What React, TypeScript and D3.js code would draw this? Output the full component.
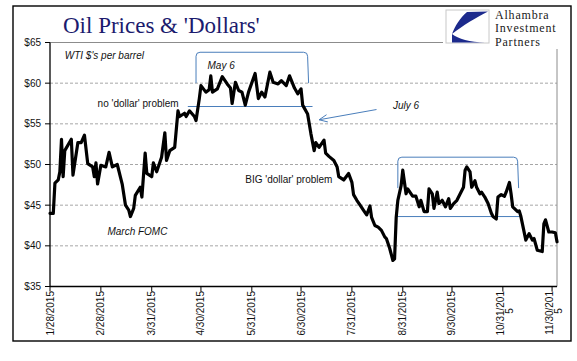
import * as d3 from 'd3'

// WTI daily closes
const dates = [
  '2015-01-28', '2015-01-30', '2015-01-31', '2015-02-02', '2015-02-03', '2015-02-04', '2015-02-05', '2015-02-06',
  '2015-02-10', '2015-02-11', '2015-02-14', '2015-02-16', '2015-02-18', '2015-02-20', '2015-02-23', '2015-02-24',
  '2015-02-25', '2015-02-26', '2015-02-28', '2015-03-03', '2015-03-05', '2015-03-07', '2015-03-10', '2015-03-13',
  '2015-03-15', '2015-03-17', '2015-03-18', '2015-03-20', '2015-03-21', '2015-03-24', '2015-03-25', '2015-03-27',
  '2015-03-28', '2015-03-31', '2015-04-01', '2015-04-03', '2015-04-06', '2015-04-08', '2015-04-09', '2015-04-11',
  '2015-04-14', '2015-04-16', '2015-04-17', '2015-04-20', '2015-04-21', '2015-04-23', '2015-04-26', '2015-04-27',
  '2015-04-29', '2015-04-30', '2015-05-03', '2015-05-05', '2015-05-06', '2015-05-07', '2015-05-10', '2015-05-13',
  '2015-05-16', '2015-05-18', '2015-05-19', '2015-05-21', '2015-05-23', '2015-05-25', '2015-05-27', '2015-05-29',
  '2015-06-02', '2015-06-04', '2015-06-06', '2015-06-08', '2015-06-11', '2015-06-13', '2015-06-16', '2015-06-18',
  '2015-06-21', '2015-06-23', '2015-06-26', '2015-06-28', '2015-06-30', '2015-07-01', '2015-07-04', '2015-07-06',
  '2015-07-08', '2015-07-09', '2015-07-11', '2015-07-14', '2015-07-15', '2015-07-17', '2015-07-20', '2015-07-22',
  '2015-07-23', '2015-07-26', '2015-07-29', '2015-07-31', '2015-08-01', '2015-08-03', '2015-08-05', '2015-08-07',
  '2015-08-09', '2015-08-11', '2015-08-12', '2015-08-14', '2015-08-16', '2015-08-18', '2015-08-20', '2015-08-21',
  '2015-08-23', '2015-08-25', '2015-08-26', '2015-08-27', '2015-08-28', '2015-08-30', '2015-08-31', '2015-09-02',
  '2015-09-03', '2015-09-06', '2015-09-08', '2015-09-10', '2015-09-11', '2015-09-13', '2015-09-15', '2015-09-16',
  '2015-09-18', '2015-09-19', '2015-09-21', '2015-09-22', '2015-09-24', '2015-09-26', '2015-09-28', '2015-09-29',
  '2015-10-01', '2015-10-03', '2015-10-05', '2015-10-07', '2015-10-08', '2015-10-09', '2015-10-11', '2015-10-12',
  '2015-10-14', '2015-10-15', '2015-10-17', '2015-10-18', '2015-10-20', '2015-10-22', '2015-10-24', '2015-10-25',
  '2015-10-27', '2015-10-28', '2015-10-30', '2015-11-01', '2015-11-02', '2015-11-04', '2015-11-05', '2015-11-06',
  '2015-11-09', '2015-11-10', '2015-11-11', '2015-11-14', '2015-11-16', '2015-11-18', '2015-11-19', '2015-11-21',
  '2015-11-24', '2015-11-25', '2015-11-26', '2015-11-28', '2015-11-30', '2015-12-02', '2015-12-03',
]
const prices = [
  44.0, 44.0, 47.7, 48.1, 49.1, 53.1, 48.5, 51.7,
  53.1, 48.7, 52.7, 52.7, 53.6, 50.1, 49.7, 48.5,
  50.2, 47.6, 49.9, 49.7, 51.5, 49.7, 50.0, 47.6,
  45.0, 44.4, 43.6, 44.6, 46.2, 47.2, 46.0, 51.4,
  48.9, 48.5, 50.2, 49.1, 50.9, 53.9, 50.5, 51.7,
  52.1, 56.6, 55.9, 56.3, 55.9, 56.6, 55.9, 55.4,
  58.1, 59.7, 58.9, 59.2, 60.9, 58.9, 59.3, 60.8,
  59.9, 59.4, 57.5, 60.1, 59.1, 58.9, 57.3, 58.9,
  61.2, 58.1, 58.9, 58.3, 61.35, 60.1, 59.9, 60.3,
  59.7, 60.9, 59.4, 58.7, 59.3, 57.3, 56.2, 53.8,
  51.7, 52.7, 52.1, 53.0, 51.4, 51.0, 50.5, 49.7,
  48.5, 48.1, 48.9, 47.8, 46.3, 45.6, 45.0, 44.4,
  43.8, 44.9, 43.5, 42.5, 42.3, 41.9, 41.1, 40.9,
  39.7, 38.2, 38.4, 43.5, 45.6, 47.4, 49.3, 46.4,
  47.0, 46.1, 46.1, 44.8, 45.6, 44.2, 44.2, 47.0,
  46.4, 44.6, 46.6, 45.2, 45.6, 44.8, 45.8, 44.6,
  45.2, 45.6, 46.4, 47.2, 49.3, 49.7, 49.1, 47.2,
  48.0, 47.2, 46.4, 46.6, 46.0, 45.2, 44.0, 43.6,
  43.3, 46.0, 46.3, 46.1, 46.6, 47.8, 46.4, 44.8,
  44.2, 44.3, 43.6, 40.7, 41.5, 40.7, 40.9, 39.45,
  39.3, 42.7, 43.2, 41.7, 41.7, 41.6, 40.5,
]

const xTicks = ['2015-01-28', '2015-02-28', '2015-03-31', '2015-04-30', '2015-05-31', '2015-06-30',
  '2015-07-31', '2015-08-31', '2015-09-30', '2015-10-31', '2015-11-30']
const xTickLabels = [['1/28/2015'], ['2/28/2015'], ['3/31/2015'], ['4/30/2015'], ['5/31/2015'], ['6/30/2015'],
  ['7/31/2015'], ['8/31/2015'], ['9/30/2015'], ['10/31/201', '5'], ['11/30/201', '5']]
const yTicks = [35, 40, 45, 50, 55, 60, 65]

// annotations
const brackets = [
  { start: '2015-04-27', end: '2015-07-04', top: 63.8, bottom: 60.0 },
  { start: '2015-08-28', end: '2015-11-09', top: 50.9, bottom: 47.1 },
]
const levels = [
  { start: '2015-04-22', end: '2015-07-07', value: 57.13 },
  { start: '2015-08-27', end: '2015-11-11', value: 43.6 },
]
const arrow = { from: ['2015-08-15', 56.76], to: ['2015-07-11', 55.5] }
const notes = [
  { text: "WTI $'s per barrel", date: '2015-02-06', value: 63.0, italic: true },
  { text: 'May 6', date: '2015-05-04', value: 61.8, italic: true },
  { text: "no 'dollar' problem", date: '2015-02-26', value: 57.05, italic: false },
  { text: 'March FOMC', date: '2015-03-04', value: 41.3, italic: true },
  { text: "BIG 'dollar' problem", date: '2015-05-27', value: 47.7, italic: false },
  { text: 'July 6', date: '2015-08-25', value: 56.85, italic: true },
]
const logoLines = ['Alhambra', 'Investment', 'Partners']

const W = 577
const H = 361
const parse = d3.timeParse('%Y-%m-%d')
const BLUE = '#4a7ebb'
const FONT = "'Liberation Sans', Arial, sans-serif"
const SERIF = "'Liberation Serif', 'Times New Roman', serif"

export default function App() {
  const x = d3.scaleTime()
    .domain([parse('2015-01-28')!, parse('2015-12-03')!])
    .range([50, 557])
  const y = d3.scaleLinear().domain([35, 65]).range([286.5, 42.5])

  const data = dates.map((d, i) => ({ date: parse(d)!, value: prices[i] }))
  const line = d3.line<{ date: Date; value: number }>()
    .x(d => x(d.date))
    .y(d => y(d.value))

  const left = x.range()[0]
  const right = x.range()[1]
  const top = y(65)
  const bottom = y(35)

  // arrow geometry
  const ax1 = x(parse(arrow.from[0] as string)!)
  const ay1 = y(arrow.from[1] as number)
  const ax2 = x(parse(arrow.to[0] as string)!)
  const ay2 = y(arrow.to[1] as number)
  const ang = Math.atan2(ay1 - ay2, ax1 - ax2)
  const head = 9
  const spread = 0.42
  const h1 = [ax2 + head * Math.cos(ang + spread), ay2 + head * Math.sin(ang + spread)]
  const h2 = [ax2 + head * Math.cos(ang - spread), ay2 + head * Math.sin(ang - spread)]

  return (
    <svg width={W} height={H} style={{ position: 'fixed', left: 0, top: 0, background: '#fff' }}>
      <rect x={0} y={0} width={W} height={H} fill="#fff" />
      {/* outer frame */}
      <rect x={13} y={6} width={558} height={335} fill="none" stroke="#000" strokeWidth={1.4} />

      {/* gridlines */}
      {yTicks.filter(t => t > 35 && t < 65).map(t => (
        <line key={t} x1={left} x2={right} y1={y(t)} y2={y(t)} stroke="#a6a6a6" strokeWidth={1} strokeDasharray="3,2" />
      ))}
      {/* plot border */}
      <line x1={left} x2={right} y1={top} y2={top} stroke="#8c8c8c" />
      <line x1={right} x2={right} y1={top} y2={bottom} stroke="#8c8c8c" />

      {/* axes */}
      <line x1={left} x2={left} y1={top} y2={bottom} stroke="#000" strokeWidth={1.3} />
      <line x1={left} x2={right} y1={bottom} y2={bottom} stroke="#000" strokeWidth={1.3} />
      {yTicks.map(t => (
        <g key={t}>
          <line x1={left - 5} x2={left} y1={y(t)} y2={y(t)} stroke="#000" />
          <text x={41} y={y(t)} dy="0.35em" textAnchor="end" fontFamily={FONT} fontSize={10} fill="#111">
            ${t}
          </text>
        </g>
      ))}
      {xTicks.map((t, i) => {
        const tx = x(parse(t)!)
        const lines = xTickLabels[i]
        return (
          <g key={t}>
            <line x1={tx} x2={tx} y1={bottom} y2={bottom + 5} stroke="#000" />
            {lines.length === 1 ? (
              <text transform={`translate(${tx + 3.5},291) rotate(-90)`} textAnchor="end"
                fontFamily={FONT} fontSize={10} fill="#111">{lines[0]}</text>
            ) : (
              <>
                <text transform={`translate(${tx + 1},291) rotate(-90)`} textAnchor="end"
                  fontFamily={FONT} fontSize={10} fill="#111">{lines[0]}</text>
                <text transform={`translate(${tx + 10},311) rotate(-90)`} textAnchor="middle"
                  fontFamily={FONT} fontSize={10} fill="#111">{lines[1]}</text>
              </>
            )}
          </g>
        )
      })}

      {/* brackets and levels */}
      {brackets.map((b, i) => {
        const x1 = x(parse(b.start)!)
        const x2 = x(parse(b.end)!)
        const yt = y(b.top)
        const yb = y(b.bottom)
        const r = 4
        return (
          <path key={i} fill="none" stroke={BLUE} strokeWidth={1}
            d={`M${x1},${yb} L${x1},${yt + r} Q${x1},${yt} ${x1 + r},${yt} L${x2 - r},${yt} Q${x2},${yt} ${x2},${yt + r} L${x2 + 1},${yb}`} />
        )
      })}
      {levels.map((l, i) => (
        <line key={i} x1={x(parse(l.start)!)} x2={x(parse(l.end)!)} y1={y(l.value)} y2={y(l.value)}
          stroke={BLUE} strokeWidth={1} />
      ))}

      {/* price line */}
      <path d={line(data) ?? ''} fill="none" stroke="#000" strokeWidth={3.2} strokeLinejoin="round" strokeLinecap="round" />

      {/* arrow */}
      <line x1={ax1} y1={ay1} x2={ax2} y2={ay2} stroke={BLUE} strokeWidth={1} />
      <polyline points={`${h1[0]},${h1[1]} ${ax2},${ay2} ${h2[0]},${h2[1]}`} fill="none" stroke={BLUE} strokeWidth={1} />

      {/* notes */}
      {notes.map(n => (
        <text key={n.text} x={x(parse(n.date)!)} y={y(n.value)} fontFamily={FONT} fontSize={10}
          fontStyle={n.italic ? 'italic' : 'normal'} fill="#111">{n.text}</text>
      ))}

      {/* title */}
      <text x={63} y={33} fontFamily={SERIF} fontSize={23} fill="#1b1b6e">
        Oil Prices &amp; 'Dollars'
      </text>

      {/* logo */}
      <rect x={443} y={8} width={125} height={41} fill="#fff" />
      <rect x={446} y={10} width={43} height={33} fill="#fff" stroke="#c8c8c8" strokeWidth={1} />
      <path d="M467,12 L488,11.5 C477,17 462,26 452,34 C455,26 460,18 467,12 Z" fill="#1c2a8c" />
      <path d="M452,34 C458,39 470,42 485,42.5 L452,42.5 Z" fill="#1c2a8c" />
      {logoLines.map((t, i) => (
        <text key={t} x={495} y={19 + i * 13.4} fontFamily={SERIF} fontSize={12} letterSpacing={0.8} fill="#1a1a1a">
          {t}
        </text>
      ))}
    </svg>
  )
}
